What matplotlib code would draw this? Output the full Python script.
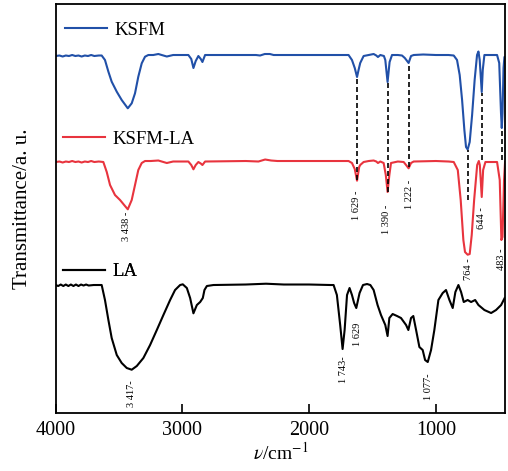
import matplotlib
matplotlib.use('Agg')
import matplotlib.pyplot as plt

plt.rcParams['font.family'] = ['Liberation Serif', 'DejaVu Serif']
plt.rcParams['mathtext.fontset'] = 'stix'

# FTIR spectra: wavenumber (cm-1) and transmittance (a.u., stacked)
ksfm_wn = [4000, 3970, 3945, 3920, 3895, 3870, 3845, 3820, 3795, 3770, 3745, 3720, 3695, 3660,
           3637, 3611, 3584, 3558, 3518, 3479, 3450, 3431, 3400, 3374, 3348, 3321, 3295, 3269,
           3230, 3190, 3150, 3123, 3073, 3000, 2953, 2930, 2913, 2895, 2874, 2855, 2842, 2821,
           2700, 2500, 2420, 2387, 2350, 2310, 2280, 2100, 1900, 1750, 1689, 1662, 1640, 1622,
           1610, 1597, 1570, 1530, 1491, 1470, 1457, 1438, 1410, 1399, 1381, 1365, 1346, 1300,
           1267, 1245, 1215, 1196, 1175, 1100, 1000, 900, 859, 833, 812, 793, 775, 762, 749,
           733, 714, 694, 675, 664, 654, 638, 630, 617, 560, 517, 500, 486, 480, 474, 466, 459,
           454]
ksfm_t = [357, 357.5, 356.5, 357.5, 357, 358, 357, 357.5, 356.5, 357.5, 357, 358, 357, 357.5,
          357.5, 353, 341.3, 331.3, 321.3, 313, 308, 304.7, 309.7, 319.7, 336.3, 349.7, 356.3, 358,
          358, 359, 357.5, 356.5, 358, 358, 358, 354, 345, 352, 357, 354, 351, 358,
          358, 358, 358, 357.5, 359, 359, 358, 358, 358, 358, 358, 353, 345, 336,
          343, 350, 357, 358, 359, 357.5, 356, 358, 357, 353, 331, 351, 358, 358,
          357.5, 355, 350, 357, 358, 358.5, 358, 358, 357.5, 353, 338, 313, 283, 266, 263.5,
          271, 298, 333, 358, 361.5, 353, 321, 343, 358, 358, 358, 350, 300, 285, 300, 345, 356,
          356]

ksfm_la_wn = [4000, 3970, 3945, 3920, 3895, 3870, 3845, 3820, 3795, 3770, 3745, 3720, 3695, 3660,
              3624, 3597, 3571, 3532, 3492, 3453, 3431, 3400, 3374, 3348, 3321, 3295, 3250, 3190,
              3123, 3073, 2953, 2930, 2913, 2895, 2874, 2855, 2842, 2821, 2500, 2400, 2347, 2300,
              2250, 2000, 1800, 1689, 1662, 1640, 1622, 1605, 1597, 1570, 1530, 1491, 1470, 1457,
              1438, 1412, 1395, 1381, 1367, 1354, 1300, 1254, 1235, 1215, 1196, 1175, 1000, 900,
              859, 827, 804, 783, 770, 749, 733, 717, 698, 674, 661, 653, 638, 627, 609, 517,
              496, 483, 474, 462, 454]
ksfm_la_t = [251, 251.5, 250.5, 251.5, 251, 252, 251, 251.5, 250.5, 251.5, 251, 252, 251, 251.5,
             251, 241, 228, 218, 213, 207, 203.7, 213, 228, 243, 250, 252, 252, 252.5,
             250, 251.5, 251.5, 248, 243.7, 248, 251, 249.5, 248, 251.5, 252, 251.5, 253.5, 252.5,
             252, 252, 252, 252, 250, 244, 232.3, 246, 248, 251, 252, 252.5, 251.5, 250,
             251.5, 250, 238, 221, 238, 250, 251.5, 251, 248, 244.7, 250, 251.5, 252, 251.5,
             251, 243, 213, 173, 161, 158.3, 159, 178, 213, 248, 252, 248, 216, 243, 251, 251,
             233, 173, 176, 233, 251]

la_wn = [4000, 3980, 3960, 3940, 3920, 3900, 3880, 3860, 3840, 3820, 3800, 3780, 3760, 3740,
         3700, 3660, 3637, 3611, 3584, 3558, 3518, 3479, 3439, 3400, 3360, 3308, 3255, 3202,
         3150, 3097, 3058, 3018, 2997, 2965, 2939, 2913, 2886, 2860, 2839, 2826, 2807, 2755,
         2500, 2340, 2200, 2000, 1830, 1807, 1781, 1755, 1736, 1720, 1701, 1681, 1662, 1645,
         1628, 1602, 1575, 1543, 1517, 1491, 1460, 1433, 1399, 1381, 1367, 1341, 1306, 1275,
         1235, 1217, 1196, 1178, 1156, 1130, 1104, 1085, 1064, 1038, 1012, 980, 946, 920,
         893, 867, 846, 822, 801, 780, 749, 722, 690, 664, 617, 564, 525, 485, 457]
la_t = [128, 127, 128.5, 127, 128.5, 127, 128.5, 127, 128.5, 127, 128.5, 127.5, 128.5, 127.5,
        128, 128, 128, 113, 93, 75, 58, 50, 45, 43.3, 47, 55, 68, 83,
        98, 113, 123, 128, 128.7, 125, 115, 99.7, 108, 111, 115, 123, 127, 128,
        128.5, 129.3, 128.5, 128.5, 128, 128, 118, 88, 64, 83, 118, 125, 118, 110,
        105, 120, 128, 129, 128, 123, 108, 98, 88, 77, 95, 99, 97, 95,
        88, 83, 95, 97, 83, 66, 63, 53, 51, 63, 83, 113, 120, 123,
        113, 105, 121, 128, 121, 111, 113, 111, 113, 108, 103, 100, 103, 108, 115]

# dashed guides linking KSFM peaks to KSFM-LA peaks
guide_wn = [1622, 1381, 1215, 749, 638, 480]
guide_top = [335, 331, 350, 263, 320, 283]
guide_bottom = [233, 221, 246, 213, 253, 253]

# peak labels: text, wavenumber, top of label
peak_labels = [('3 438 -', 3445, 201), ('1 629 -', 1625, 223), ('1 390 -', 1386, 208),
               ('1 222 -', 1208, 233), ('764 -', 740, 155), ('644 -', 640, 206),
               ('483 -', 485, 165), ('3 417-', 3400, 33), ('1 743-', 1728, 57),
               ('1 629', 1618, 90), ('1 077-', 1059, 40)]

fig = plt.figure(figsize=(5.08, 4.71), dpi=100)
ax = fig.add_axes([0.1096, 0.1231, 0.8846, 0.8684])

blue = '#2150a8'
red = '#e8343e'
l1, = ax.plot(ksfm_wn, ksfm_t, color=blue, lw=1.5)
l2, = ax.plot(ksfm_la_wn, ksfm_la_t, color=red, lw=1.5)
l3, = ax.plot(la_wn, la_t, color='black', lw=1.5)

ax.vlines(guide_wn, guide_bottom, guide_top, colors='black', lw=1.2,
          linestyles=(0, (3, 1.8)))

for text, wn, y in peak_labels:
    ax.text(wn, y, text, rotation=90, ha='center', va='top', fontsize=7.5)

for line, name, anchor in [(l1, 'KSFM', (0.02, 0.936)),
                           (l2, 'KSFM-LA', (0.0163, 0.67)),
                           (l3, 'LA', (0.0163, 0.3455))]:
    leg = ax.legend([line], [name], loc='center left', bbox_to_anchor=anchor,
                    frameon=False, fontsize=13.5, handlelength=2.25,
                    handletextpad=0.4, borderpad=0, borderaxespad=0)
    ax.add_artist(leg)

ax.set_xlim(4000, 454)
ax.set_ylim(0, 409)
ax.set_xticks([4000, 3000, 2000, 1000])
ax.set_yticks([])
ax.tick_params(axis='x', direction='in', length=6.5, width=1.2, labelsize=14.5, pad=6)
for s in ax.spines.values():
    s.set_linewidth(1.3)

ax.set_xlabel(r'$\nu$/cm$^{-1}$', fontsize=14, labelpad=1)
ax.set_ylabel('Transmittance/a. u.', fontsize=15, labelpad=17)

fig.savefig('out.png', dpi=100)
